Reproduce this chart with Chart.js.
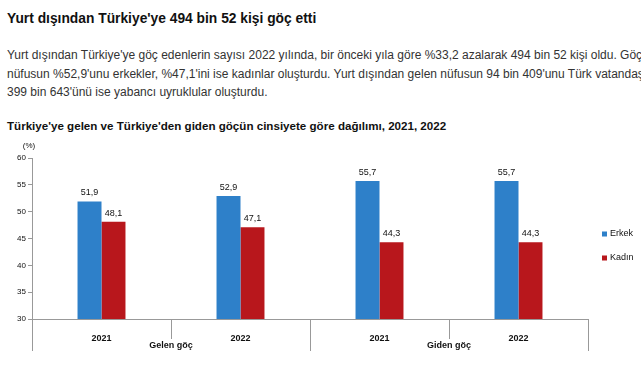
<!DOCTYPE html>
<html><head><meta charset="utf-8">
<script src="https://cdn.jsdelivr.net/npm/chart.js@4/dist/chart.umd.min.js"></script>
<style>
html,body{margin:0;padding:0;background:#fff;width:641px;height:380px;overflow:hidden;font-family:"Liberation Sans",Arial,sans-serif;}
#title{position:absolute;left:7px;top:11px;font-size:13.8px;font-weight:bold;color:#111;white-space:nowrap;}
#para{position:absolute;left:7px;top:46px;width:700px;font-size:12px;line-height:18.5px;color:#333;}
#para div{white-space:nowrap;}
#ctitle{position:absolute;left:7px;top:119px;font-size:11.6px;font-weight:bold;color:#111;white-space:nowrap;}
#wrap{position:absolute;left:0;top:140px;width:641px;height:240px;}
</style></head><body>
<div id="title">Yurt dışından Türkiye'ye 494 bin 52 kişi göç etti</div>
<div id="para">
<div>Yurt dışından Türkiye'ye göç edenlerin sayısı 2022 yılında, bir önceki yıla göre %33,2 azalarak 494 bin 52 kişi oldu. Göç eden</div>
<div>nüfusun %52,9'unu erkekler, %47,1'ini ise kadınlar oluşturdu. Yurt dışından gelen nüfusun 94 bin 409'unu Türk vatandaşları,</div>
<div>399 bin 643'ünü ise yabancı uyruklular oluşturdu.</div>
</div>
<div id="ctitle">Türkiye'ye gelen ve Türkiye'den giden göçün cinsiyete göre dağılımı, 2021, 2022</div>
<div id="wrap"><canvas id="c" width="641" height="240"></canvas></div>
<script>
const years = ["2021", "2022", "2021", "2022"];
const groups = ["Gelen göç", "Giden göç"];
const erkek = [51.9, 52.9, 55.7, 55.7];
const kadin = [48.1, 47.1, 44.3, 44.3];
const seriesNames = ["Erkek", "Kadın"];
const yTicks = [30, 35, 40, 45, 50, 55, 60];
const unitLabel = "(%)";

const FONT = '"Liberation Sans", Arial, sans-serif';
const fmt = v => v.toFixed(1).replace('.', ',');

const extras = {
  id: 'extras',
  afterDraw(chart) {
    const ctx = chart.ctx;
    const x = chart.scales.x, y = chart.scales.y;
    const ca = chart.chartArea;
    ctx.save();
    // value labels
    ctx.fillStyle = '#111';
    ctx.font = '9px ' + FONT;
    ctx.textAlign = 'center';
    ctx.textBaseline = 'bottom';
    chart.data.datasets.forEach((ds, di) => {
      chart.getDatasetMeta(di).data.forEach((bar, i) => {
        ctx.fillText(fmt(ds.data[i]), bar.x, bar.y - 4);
      });
    });
    // category separators
    ctx.strokeStyle = '#999';
    ctx.lineWidth = 1;
    const n = years.length;
    const step = (x.right - x.left) / n;
    for (let i = 1; i <= n; i++) {
      const px = Math.round(x.left + step * i) + 0.5;
      const outer = (i % 2 === 0);
      ctx.beginPath();
      ctx.moveTo(px, ca.bottom);
      ctx.lineTo(px, ca.bottom + (outer ? 32 : 20));
      ctx.stroke();
    }
    // extend y axis down
    ctx.beginPath();
    ctx.moveTo(Math.round(x.left) + 0.5, ca.bottom);
    ctx.lineTo(Math.round(x.left) + 0.5, ca.bottom + 32);
    ctx.stroke();
    // group labels
    ctx.fillStyle = '#111';
    ctx.font = 'bold 9px ' + FONT;
    ctx.textBaseline = 'middle';
    groups.forEach((g, gi) => {
      const cx = x.left + step * (gi * 2 + 1);
      ctx.fillText(g, cx, ca.bottom + 27);
    });
    // unit label
    ctx.font = '8px ' + FONT;
    ctx.textAlign = 'center';
    ctx.fillText(unitLabel, 29, 6);
    // legend
    ctx.textAlign = 'left';
    ctx.font = '9px ' + FONT;
    chart.data.datasets.forEach((ds, di) => {
      const ly = 94 + di * 24;
      ctx.fillStyle = ds.backgroundColor;
      ctx.fillRect(602, ly - 2.5, 5, 5);
      ctx.fillStyle = '#111';
      ctx.fillText(ds.label, 610, ly);
    });
    ctx.restore();
  }
};

new Chart(document.getElementById('c'), {
  type: 'bar',
  data: {
    labels: years,
    datasets: [
      { label: seriesNames[0], data: erkek, backgroundColor: '#2e80c9', borderWidth: 0 },
      { label: seriesNames[1], data: kadin, backgroundColor: '#b8171c', borderWidth: 0 }
    ]
  },
  options: {
    responsive: false,
    animation: false,
    events: [],
    layout: { padding: { top: 18, right: 53, left: 0, bottom: 0 } },
    plugins: { legend: { display: false }, tooltip: { enabled: false } },
    datasets: { bar: { categoryPercentage: 0.345, barPercentage: 1.0 } },
    scales: {
      x: {
        grid: { display: false },
        border: { display: true, color: '#999', width: 1 },
        ticks: { color: '#111', font: { family: FONT, size: 9, weight: 'bold' }, padding: 6, maxRotation: 0 },
        afterFit: s => { s.height = 61; }
      },
      y: {
        min: 30, max: 60,
        afterBuildTicks: s => { s.ticks = yTicks.map(v => ({ value: v })); },
        grid: { display: true, drawOnChartArea: false, drawTicks: true, tickLength: 4, color: '#999' },
        border: { display: true, color: '#999', width: 1 },
        ticks: { color: '#111', font: { family: FONT, size: 8 }, padding: 2 },
        afterFit: s => { s.width = 32; }
      }
    }
  },
  plugins: [extras]
});
</script>
</body></html>
